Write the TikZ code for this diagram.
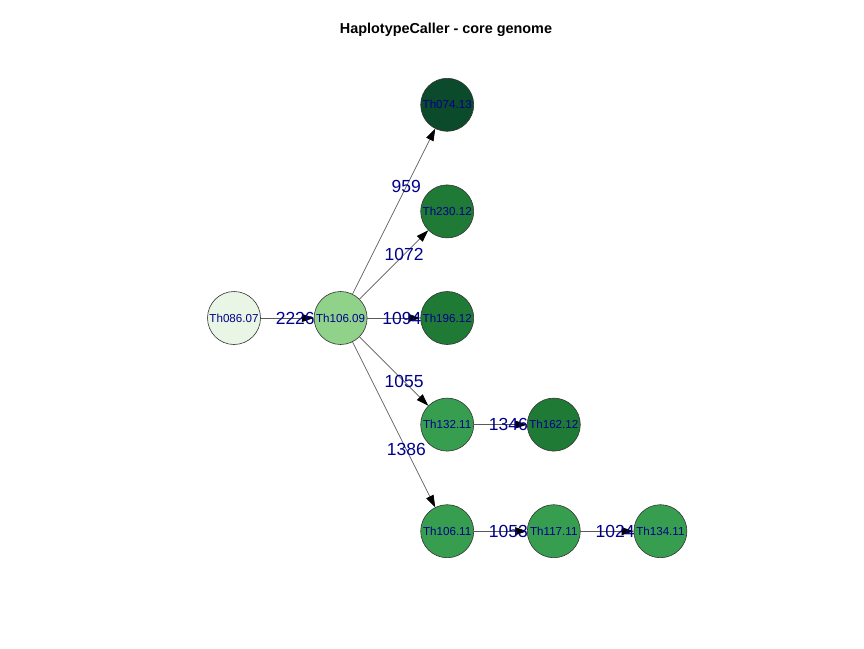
\documentclass[tikz,border=0pt]{standalone}
\usepackage{fontspec}
\setmainfont{Liberation Sans}
\usetikzlibrary{positioning, arrows.meta}

\definecolor{gLight}{HTML}{E9F6E5}
\definecolor{gMid}{HTML}{91D28A}
\definecolor{gGreen}{HTML}{389E4F}
\definecolor{gDark}{HTML}{1F7A36}
\definecolor{gDeep}{HTML}{0B4A2A}
\definecolor{lblue}{RGB}{0,0,139}

\begin{document}
\begin{tikzpicture}[
    x=1pt, y=-1pt,
    node distance=53pt,
    sample/.style={circle, draw=black!80, line width=0.6pt, inner sep=0pt, minimum size=53pt,
        text=lblue, font=\fontsize{11.6}{12}\selectfont},
    link/.style={-{Triangle[length=12pt, width=8pt, color=black]}, draw=black!65, line width=0.7pt},
    snp/.style={pos=0.65, text=lblue, inner sep=0pt, font=\fontsize{17.5}{18}\selectfont},
]
    \useasboundingbox (0,0) rectangle (864,648);

    % Title
    \node[font=\bfseries\fontsize{14.4}{16}\selectfont] (title) at (446,30) {HaplotypeCaller - core genome};

    % Nodes
    \node[sample, fill=gLight] (Th08607) at (234,318) {Th086.07};
    \node[sample, fill=gMid]   (Th10609) [right= of Th08607] {Th106.09};
    \node[sample, fill=gDark]  (Th19612) [right= of Th10609] {Th196.12};
    \node[sample, fill=gDark]  (Th23012) [above= of Th19612] {Th230.12};
    \node[sample, fill=gDeep]  (Th07413) [above= of Th23012] {Th074.13};
    \node[sample, fill=gGreen] (Th13211) [below= of Th19612] {Th132.11};
    \node[sample, fill=gDark]  (Th16212) [right= of Th13211] {Th162.12};
    \node[sample, fill=gGreen] (Th10611) [below= of Th13211] {Th106.11};
    \node[sample, fill=gGreen] (Th11711) [right= of Th10611] {Th117.11};
    \node[sample, fill=gGreen] (Th13411) [right= of Th11711] {Th134.11};

    % Lines
    \draw[link] (Th08607) to node[snp] {2226} (Th10609);
    \draw[link] (Th10609) to node[snp] {959} (Th07413);
    \draw[link] (Th10609) to node[snp] {1072} (Th23012);
    \draw[link] (Th10609) to node[snp] {1094} (Th19612);
    \draw[link] (Th10609) to node[snp] {1055} (Th13211);
    \draw[link] (Th10609) to node[snp] {1386} (Th10611);
    \draw[link] (Th13211) to node[snp] {1346} (Th16212);
    \draw[link] (Th10611) to node[snp] {1053} (Th11711);
    \draw[link] (Th11711) to node[snp] {1024} (Th13411);

\end{tikzpicture}
\end{document}
